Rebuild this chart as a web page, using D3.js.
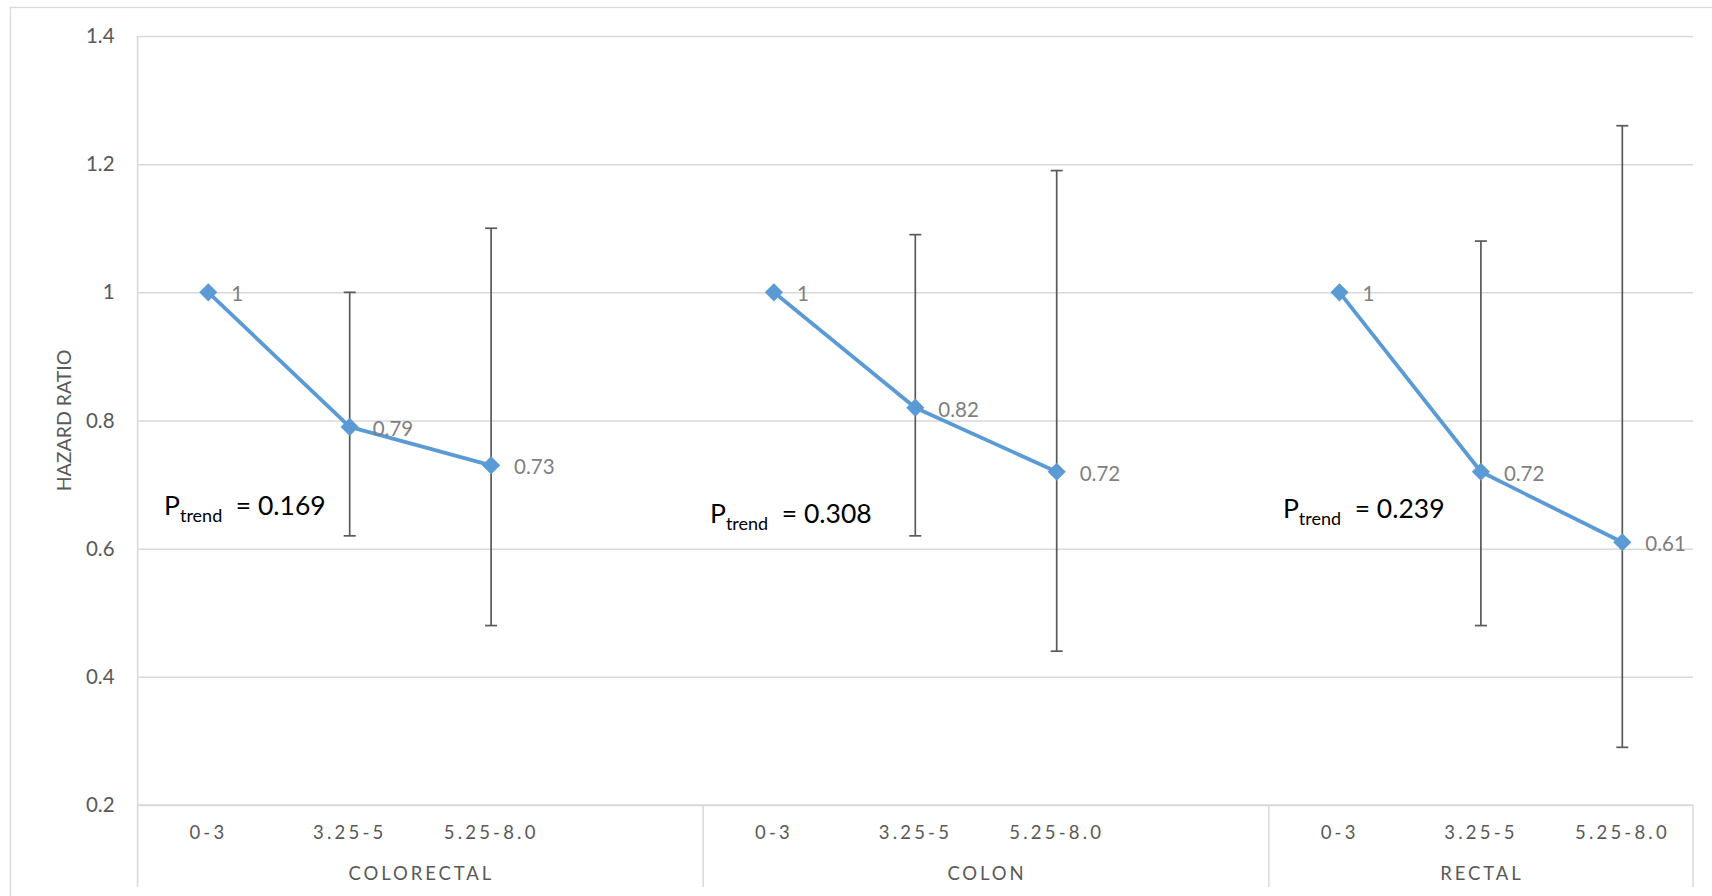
<!DOCTYPE html>
<html>
<head>
<meta charset="utf-8">
<script src="https://cdn.jsdelivr.net/npm/d3@7/dist/d3.min.js"></script>
<style>
  html, body { margin: 0; padding: 0; background: #ffffff; }
  svg { display: block; }
  text { font-family: Lato, "Open Sans", "DejaVu Sans", sans-serif; }
</style>
</head>
<body>
<svg id="chart" width="1712" height="896"></svg>
<script>
// Cancer sites and follow-up periods
const groups = ["COLORECTAL", "COLON", "RECTAL"];
const periods = ["0-3", "3.25-5", "5.25-8.0"];

// Hazard ratios with 95% confidence limits (reference period has none)
const hrColorectal   = [1, 0.79, 0.73];
const lowColorectal  = [null, 0.62, 0.48];
const highColorectal = [null, 1.00, 1.10];

const hrColon   = [1, 0.82, 0.72];
const lowColon  = [null, 0.62, 0.44];
const highColon = [null, 1.09, 1.19];

const hrRectal   = [1, 0.72, 0.61];
const lowRectal  = [null, 0.48, 0.29];
const highRectal = [null, 1.08, 1.26];

// P for trend per site
const pTrend = ["0.169", "0.308", "0.239"];

// Y axis ticks
const yTicks = [0.2, 0.4, 0.6, 0.8, 1, 1.2, 1.4];
const yLabel = "HAZARD RATIO";

// ---------------------------------------------------------------------------
const seriesHR   = [hrColorectal, hrColon, hrRectal];
const seriesLow  = [lowColorectal, lowColon, lowRectal];
const seriesHigh = [highColorectal, highColon, highRectal];

const svg = d3.select("#chart");
const W = 1712, H = 896;
const plot = { left: 137.6, right: 1693, top: 36, bottom: 805 };
const axisBoxBottom = 887;

const BLUE = "#5B9BD5";
const GRID = "#d9d9d9";
const TEXT = "#595959";

// Category slots: each site gets its three periods; a spacer follows the first two sites
const slots = [];
groups.forEach((g, gi) => {
  periods.forEach(p => slots.push(g + "|" + p));
  if (gi < groups.length - 1) slots.push(g + "|_gap");
});

const x = d3.scaleBand().domain(slots).range([plot.left, plot.right]).paddingInner(0).paddingOuter(0);
const y = d3.scaleLinear().domain([0.2, 1.4]).range([plot.bottom, plot.top]);
const cx = key => x(key) + x.bandwidth() / 2;

// Outer chart frame
svg.append("rect")
  .attr("x", 10.5).attr("y", 7.5)
  .attr("width", W + 20).attr("height", H + 20)
  .attr("fill", "none").attr("stroke", GRID).attr("stroke-width", 1.3);

// Horizontal gridlines and value axis labels
const yAxis = d3.axisLeft(y).tickValues(yTicks).tickSize(-(plot.right - plot.left)).tickPadding(23)
  .tickFormat(d => String(d));
const yg = svg.append("g").attr("transform", `translate(${plot.left},0)`).call(yAxis);
yg.select(".domain").remove();
yg.selectAll(".tick line").attr("stroke", GRID).attr("stroke-width", 1.5);
yg.selectAll(".tick text")
  .attr("fill", TEXT).attr("font-size", 20.5).attr("font-family", "Lato, 'Open Sans', sans-serif");

// Value axis title
svg.append("text")
  .attr("transform", `translate(${63},${(plot.top + plot.bottom) / 2}) rotate(-90)`)
  .attr("text-anchor", "middle").attr("dominant-baseline", "central")
  .attr("fill", TEXT).attr("font-size", 19.5)
  .text(yLabel);

// Multi-level category axis frame
const frame = svg.append("g").attr("stroke", GRID).attr("stroke-width", 1.5).attr("fill", "none");
frame.append("line").attr("x1", plot.left).attr("x2", plot.left).attr("y1", plot.top).attr("y2", axisBoxBottom);
frame.append("line").attr("x1", plot.left).attr("x2", plot.right).attr("y1", plot.bottom).attr("y2", plot.bottom);
groups.forEach((g, gi) => {
  if (gi > 0) {
    const xs = x(g + "|" + periods[0]);
    frame.append("line").attr("x1", xs).attr("x2", xs).attr("y1", plot.bottom).attr("y2", axisBoxBottom);
  }
});
frame.append("line").attr("x1", plot.right).attr("x2", plot.right).attr("y1", plot.bottom).attr("y2", axisBoxBottom);

// Period labels (letter-spaced)
const LS = 3.2;
const catG = svg.append("g");
groups.forEach(g => {
  periods.forEach(p => {
    catG.append("text")
      .attr("x", cx(g + "|" + p) + LS / 2 - 1.5)
      .attr("y", 832)
      .attr("text-anchor", "middle").attr("dominant-baseline", "central")
      .attr("fill", TEXT).attr("font-size", 18.5).attr("letter-spacing", LS)
      .text(p);
  });
});

// Site labels centred under each site's span
groups.forEach((g, gi) => {
  const x0 = x(g + "|" + periods[0]);
  const lastKey = gi < groups.length - 1 ? g + "|_gap" : g + "|" + periods[periods.length - 1];
  const x1 = x(lastKey) + x.bandwidth();
  catG.append("text")
    .attr("x", (x0 + x1) / 2 + 1)
    .attr("y", 873)
    .attr("text-anchor", "middle").attr("dominant-baseline", "central")
    .attr("fill", TEXT).attr("font-size", 18.5).attr("letter-spacing", 2.9)
    .text(g);
});

// Error bars
const ebG = svg.append("g").attr("stroke", "#595959").attr("stroke-width", 1.7);
const CAP = 6;
groups.forEach((g, gi) => {
  periods.forEach((p, pi) => {
    const lo = seriesLow[gi][pi], hi = seriesHigh[gi][pi];
    if (lo == null || hi == null) return;
    const xc = cx(g + "|" + p);
    ebG.append("line").attr("x1", xc).attr("x2", xc).attr("y1", y(lo)).attr("y2", y(hi));
    ebG.append("line").attr("x1", xc - CAP).attr("x2", xc + CAP).attr("y1", y(lo)).attr("y2", y(lo));
    ebG.append("line").attr("x1", xc - CAP).attr("x2", xc + CAP).attr("y1", y(hi)).attr("y2", y(hi));
  });
});

// Trend lines within each site
const line = d3.line().x(d => d.x).y(d => d.y);
groups.forEach((g, gi) => {
  const pts = periods.map((p, pi) => ({ x: cx(g + "|" + p), y: y(seriesHR[gi][pi]) }));
  svg.append("path").attr("d", line(pts))
    .attr("fill", "none").attr("stroke", BLUE).attr("stroke-width", 3.8)
    .attr("stroke-linejoin", "round");
});

// Diamond markers and value labels
const diamond = d3.symbol().type(d3.symbolSquare).size(165);
groups.forEach((g, gi) => {
  periods.forEach((p, pi) => {
    const v = seriesHR[gi][pi];
    const xc = cx(g + "|" + p), yc = y(v);
    svg.append("path").attr("d", diamond())
      .attr("transform", `translate(${xc},${yc}) rotate(45)`)
      .attr("fill", BLUE);
    svg.append("text")
      .attr("x", xc + 23).attr("y", yc + 1)
      .attr("dominant-baseline", "central")
      .attr("fill", "#7f7f7f").attr("font-size", 20.5)
      .text(String(v));
  });
});

// P-trend annotations, placed relative to each site's first period
const pTrendOffset = [-0.313, -0.452, -0.40];  // in category widths
const pTrendLevel  = [0.653, 0.640, 0.648];    // baseline on the hazard-ratio scale
groups.forEach((g, gi) => {
  const t = svg.append("text")
    .attr("x", cx(g + "|" + periods[0]) + pTrendOffset[gi] * x.bandwidth())
    .attr("y", y(pTrendLevel[gi]))
    .attr("fill", "#000000").attr("font-size", 26.5);
  t.append("tspan").text("P");
  t.append("tspan").attr("font-size", 18).attr("dy", 7).text("trend");
  t.append("tspan").attr("dy", -7).attr("xml:space", "preserve").text("\u00a0\u00a0= " + pTrend[gi]);
});
</script>
</body>
</html>
